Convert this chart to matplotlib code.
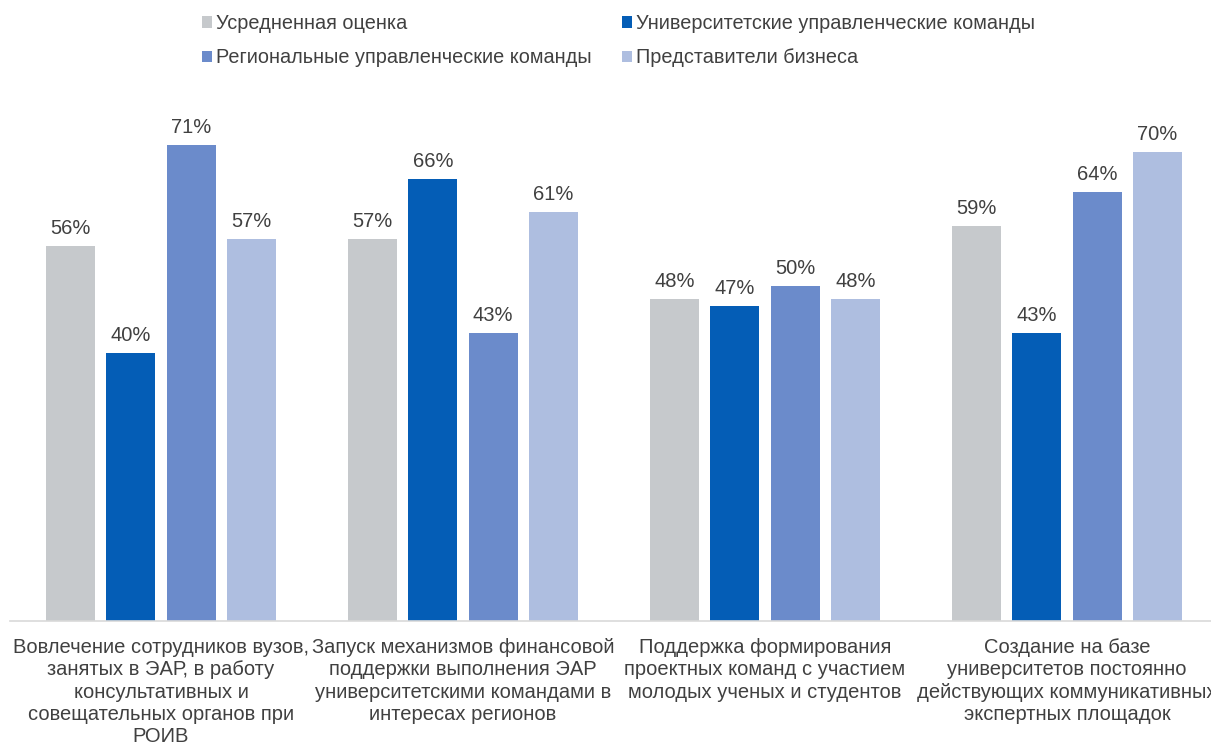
import matplotlib.pyplot as plt
import numpy as np

plt.rcParams['font.family'] = ['Liberation Sans', 'DejaVu Sans']

categories = [
    'Вовлечение сотрудников вузов,\nзанятых в ЭАР, в работу\nконсультативных и\nсовещательных органов при\nРОИВ',
    'Запуск механизмов финансовой\nподдержки выполнения ЭАР\nуниверситетскими командами в\nинтересах регионов',
    'Поддержка формирования\nпроектных команд с участием\nмолодых ученых и студентов',
    'Создание на базе\nуниверситетов постоянно\nдействующих коммуникативных\nэкспертных площадок',
]
series_names = [
    'Усредненная оценка',
    'Университетские управленческие команды',
    'Региональные управленческие команды',
    'Представители бизнеса',
]
avg_score = [56, 57, 48, 59]
univ_teams = [40, 66, 47, 43]
region_teams = [71, 43, 50, 64]
business = [57, 61, 48, 70]

colors = ['#C6C9CC', '#045DB6', '#6B8BCB', '#AEBEE0']
text_color = '#404040'

fig = plt.figure(figsize=(12.11, 7.45), dpi=100)
ax = fig.add_axes([10 / 1211, 124 / 745, 1208 / 1211, 536 / 745])

x = np.arange(len(categories))
width = 0.163
step = 0.2
handles = []
for i, (vals, name) in enumerate(zip([avg_score, univ_teams, region_teams, business], series_names)):
    pos = x + (i - 1.5) * step
    bars = ax.bar(pos, vals, width, color=colors[i], label=name)
    handles.append(bars)
    for b, v in zip(bars, vals):
        ax.text(b.get_x() + b.get_width() / 2, v + 1.2, f'{v}%', ha='center', va='bottom',
                fontsize=14.5, color=text_color)

ax.set_xlim(-0.5, 3.5)
ax.set_ylim(0, 80)
ax.set_xticks(x)
ax.set_xticklabels(categories, fontsize=14.5, color=text_color, linespacing=1.23, va='top')
ax.tick_params(axis='x', length=0, pad=12)
ax.set_yticks([])
for s in ['top', 'right', 'left']:
    ax.spines[s].set_visible(False)
ax.spines['bottom'].set_color('#D9D9D9')
ax.spines['bottom'].set_linewidth(1.2)

# legend is filled row by row in the reference
order = [0, 2, 1, 3]
leg = fig.legend([handles[k] for k in order], [series_names[k] for k in order],
                 loc='upper left', bbox_to_anchor=(202 / 1211, 1 - 14 / 745), ncol=2,
                 frameon=False, fontsize=14.3, handlelength=0.5, handleheight=0.5,
                 handletextpad=0.2, columnspacing=1.55, labelspacing=0.78,
                 borderpad=0, borderaxespad=0)
for t in leg.get_texts():
    t.set_color(text_color)

fig.savefig('out.png', dpi=100)
